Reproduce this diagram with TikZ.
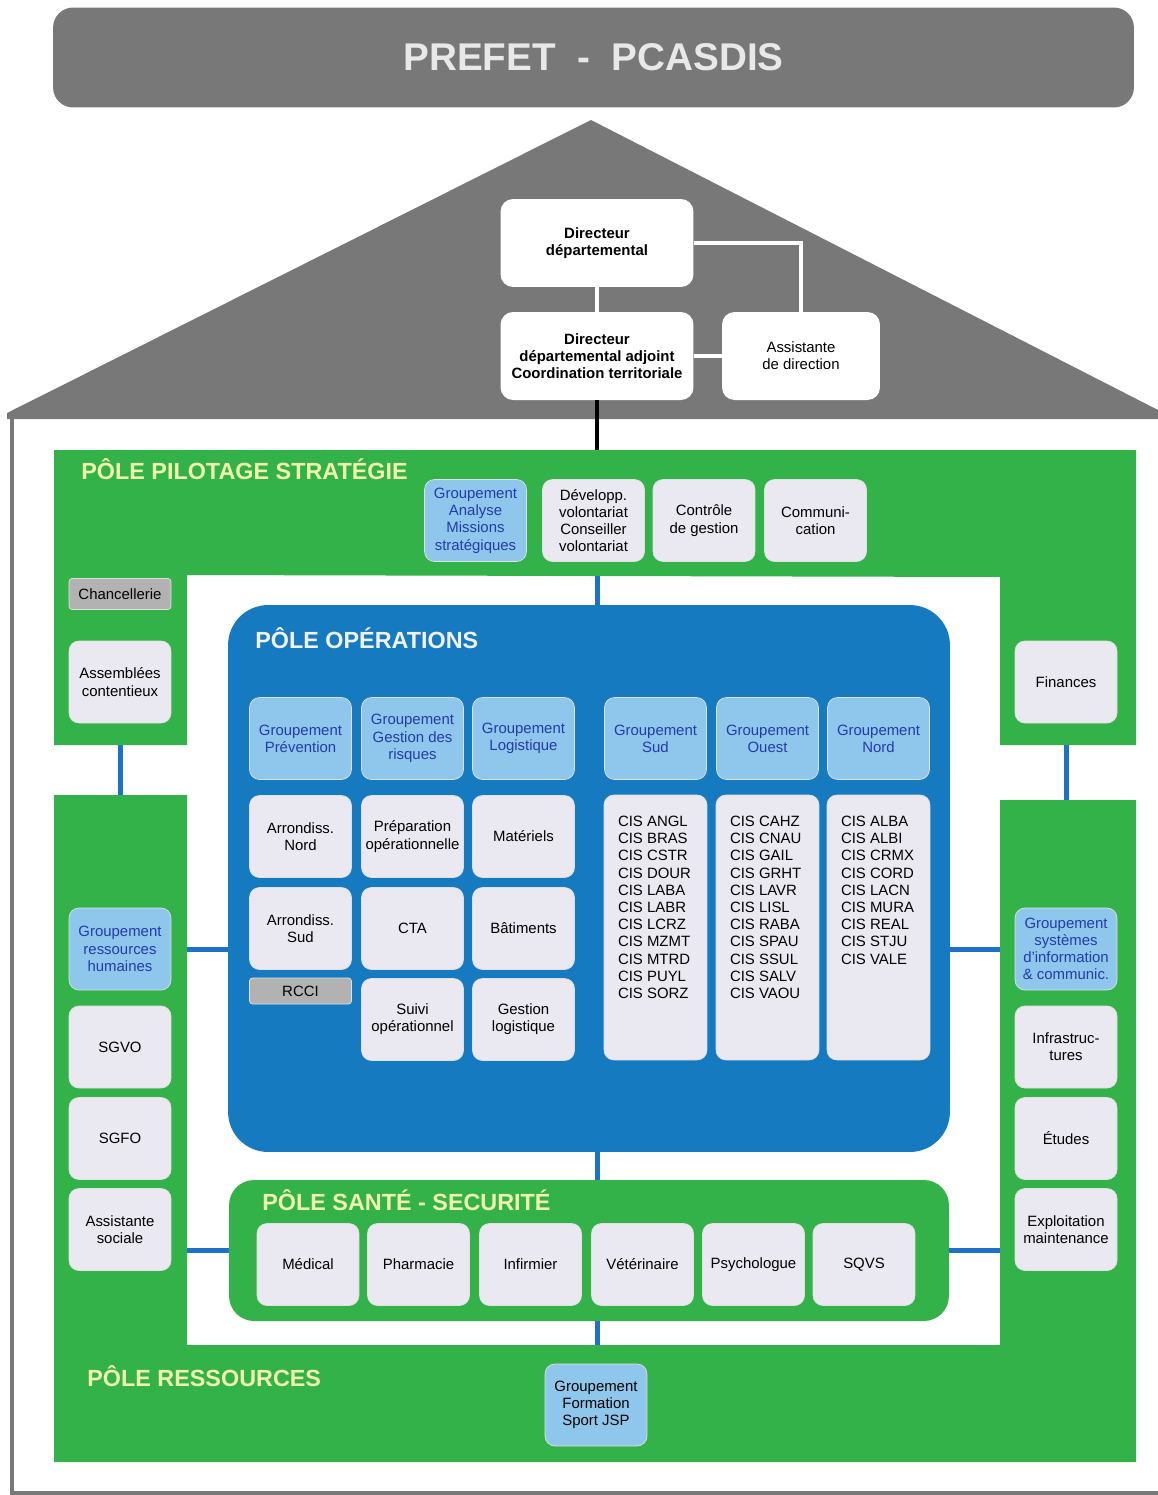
\documentclass[tikz,border=0pt]{standalone}
\usepackage{fontspec}
\setmainfont{Liberation Sans}

\definecolor{roofgray}{RGB}{120,120,120}
\definecolor{polegreen}{RGB}{52,178,74}
\definecolor{poleblue}{RGB}{22,122,192}
\definecolor{unitfill}{RGB}{234,232,240}
\definecolor{grpfill}{RGB}{142,198,236}
\definecolor{grptext}{RGB}{38,58,168}
\definecolor{tagfill}{RGB}{178,178,178}
\definecolor{titlecol}{RGB}{240,243,172}
\definecolor{linkblue}{RGB}{30,112,200}
\definecolor{bannertext}{RGB}{232,232,232}

\pgfdeclarelayer{links}
\pgfsetlayers{links,main}

\newcommand{\unitfont}{\fontsize{8.5}{9.8}\selectfont}
\newcommand{\titlefont}{\fontsize{13.3}{15}\selectfont\bfseries}

\tikzset{
  unitbox/.style={draw=black!12, fill=unitfill, rounded corners=0.2cm, minimum width=2.04cm, minimum height=1.64cm, inner sep=1pt, align=center, font=\unitfont},
  grpbox/.style={unitbox, fill=grpfill, text=grptext},
  tagbox/.style={unitbox, fill=tagfill, minimum height=0.62cm, rounded corners=0.06cm},
  dirbox/.style={fill=white, rounded corners=0.25cm, minimum width=3.86cm, minimum height=1.76cm, align=center, font=\unitfont\bfseries},
  cisbox/.style={unitbox, minimum width=2.06cm, minimum height=5.3cm, inner xsep=0.28cm, inner ysep=0.42cm},
  poletitle/.style={anchor=base west, inner sep=0pt, font=\titlefont, text=titlecol},
  blink/.style={linkblue, line width=0.1cm},
  wlink/.style={white, line width=0.08cm}
}

\begin{document}
\begin{tikzpicture}[x=0.02cm, y=-0.02cm]
\useasboundingbox (0,0) rectangle (1158,1495);

% prefet and roof
\node[fill=roofgray, rounded corners=0.4cm, minimum width=21.62cm, minimum height=2cm, font=\fontsize{22}{24}\selectfont\bfseries, text=bannertext] (prefet) at (593.5,57.5) {PREFET\ \ -\ \ PCASDIS};
\fill[roofgray] (7,413) -- (591,120) -- (1158,410) -- (1158,419) -- (7,419) -- cycle;
\draw[roofgray, line width=0.08cm] (12,419) -- (12,1493) -- (1160,1493);

% direction
\node[dirbox] (dd) at (597,243) {Directeur\\départemental};
\node[dirbox] (dda) at (597,356) {Directeur\\départemental adjoint\\Coordination territoriale};
\node[dirbox, minimum width=3.16cm, font=\unitfont] (asst) at (801,356) {Assistante\\de direction};
\draw[wlink] (dd) -- (dda);
\draw[wlink] (dd.east) -| (asst.north);
\draw[wlink] (dda) -- (asst);
\coordinate (pilotop) at (597,450);
\draw[black, line width=0.08cm] (dda.south) -- (pilotop);

% green poles
\fill[polegreen] (54,450) -- (1136,450) -- (1136,745) -- (1000,745) -- (1000,577) -- (187,575) -- (187,745) -- (54,745) -- cycle;
\fill[polegreen] (54,795) -- (187,795) -- (187,1345) -- (1000,1345) -- (1000,800) -- (1136,800) -- (1136,1462) -- (54,1462) -- cycle;
\node[poletitle] (tpilo) at (81,479) {PÔLE PILOTAGE STRATÉGIE};
\node[poletitle] (tress) at (87,1386) {PÔLE RESSOURCES};

% pole pilotage
\node[grpbox] (gams) at (475.5,520.5) {Groupement\\Analyse\\Missions\\stratégiques};
\node[unitbox] (dvol) at (593.5,520.5) {Développ.\\volontariat\\Conseiller\\volontariat};
\node[unitbox] (cges) at (704,520.5) {Contrôle\\de gestion};
\node[unitbox] (comm) at (815.5,520.5) {Communi-\\cation};
\node[tagbox] (chanc) at (120,594) {Chancellerie};
\node[unitbox] (assc) at (120,682) {Assemblées\\contentieux};
\node[unitbox] (fin) at (1066,682) {Finances};

% pole operations
\node[fill=poleblue, rounded corners=0.8cm, minimum width=14.44cm, minimum height=10.94cm] (ops) at (589,878.5) {};
\node[poletitle, text=white!95!blue] (tops) at (255,648) {PÔLE OPÉRATIONS};
\node[grpbox] (gprev) at (300.5,738.5) {Groupement\\Prévention};
\node[grpbox] (ggr) at (412.5,738.5) {Groupement\\Gestion des\\risques};
\node[grpbox] (glog) at (523.5,738.5) {Groupement\\Logistique};
\node[grpbox] (gsud) at (655.5,738.5) {Groupement\\Sud};
\node[grpbox] (gouest) at (767.5,738.5) {Groupement\\Ouest};
\node[grpbox] (gnord) at (878.5,738.5) {Groupement\\Nord};
\node[unitbox] (arrn) at (300.5,836.5) {Arrondiss.\\Nord};
\node[unitbox] (prep) at (412.5,836.5) {Préparation\\opérationnelle};
\node[unitbox] (mat) at (523.5,836.5) {Matériels};
\node[unitbox] (arrs) at (300.5,928.5) {Arrondiss.\\Sud};
\node[unitbox] (cta) at (412.5,928.5) {CTA};
\node[unitbox] (bat) at (523.5,928.5) {Bâtiments};
\node[tagbox, minimum height=0.52cm] (rcci) at (300.5,991) {RCCI};
\node[unitbox] (suivi) at (412.5,1019.5) {Suivi\\opérationnel};
\node[unitbox] (gestlog) at (523.5,1019.5) {Gestion\\logistique};
\node[cisbox] (cissud) at (655.5,927.5) {\parbox[t][4.46cm][t]{1.5cm}{\raggedright CIS ANGL\\CIS BRAS\\CIS CSTR\\CIS DOUR\\CIS LABA\\CIS LABR\\CIS LCRZ\\CIS MZMT\\CIS MTRD\\CIS PUYL\\CIS SORZ}};
\node[cisbox] (cisouest) at (767.5,927.5) {\parbox[t][4.46cm][t]{1.5cm}{\raggedright CIS CAHZ\\CIS CNAU\\CIS GAIL\\CIS GRHT\\CIS LAVR\\CIS LISL\\CIS RABA\\CIS SPAU\\CIS SSUL\\CIS SALV\\CIS VAOU}};
\node[cisbox] (cisnord) at (878.5,927.5) {\parbox[t][4.46cm][t]{1.5cm}{\raggedright CIS ALBA\\CIS ALBI\\CIS CRMX\\CIS CORD\\CIS LACN\\CIS MURA\\CIS REAL\\CIS STJU\\CIS VALE}};

% pole ressources
\node[grpbox] (grh) at (120,949) {Groupement\\ressources\\humaines};
\node[unitbox] (sgvo) at (120,1047) {SGVO};
\node[unitbox] (sgfo) at (120,1138.5) {SGFO};
\node[unitbox] (asoc) at (120,1229.5) {Assistante\\sociale};
\node[grpbox] (gsic) at (1066,949) {Groupement\\systèmes\\d'information\\\& communic.};
\node[unitbox] (infra) at (1066,1047) {Infrastruc-\\tures};
\node[unitbox] (etud) at (1066,1138.5) {Études};
\node[unitbox] (expl) at (1066,1229.5) {Exploitation\\maintenance};
\node[grpbox, text=black] (form) at (596,1405) {Groupement\\Formation\\Sport JSP};

% pole sante
\node[fill=polegreen, rounded corners=0.5cm, minimum width=14.4cm, minimum height=2.82cm] (sante) at (589,1250.5) {};
\node[poletitle] (tsante) at (262,1210) {PÔLE SANTÉ - SECURITÉ};
\node[unitbox] (med) at (308,1264.5) {Médical};
\node[unitbox] (pharma) at (418.5,1264.5) {Pharmacie};
\node[unitbox] (inf) at (530.5,1264.5) {Infirmier};
\node[unitbox] (veto) at (642.5,1264.5) {Vétérinaire};
\node[unitbox] (psy) at (753.5,1264.5) {Psychologue};
\node[unitbox] (sqvs) at (864,1264.5) {SQVS};

% links between poles
\begin{pgfonlayer}{links}
\fill[white] (0,0) rectangle (1158,1495);
\draw[blink] (assc) -- (grh);
\draw[blink] (fin) -- (gsic);
\draw[blink] (grh.east) -- (grh.east -| ops.west);
\draw[blink] (ops.east |- gsic.west) -- (gsic.west);
\draw[blink] (sante.west -| asoc.east) -- (sante.west);
\draw[blink] (sante.east) -- (sante.east -| expl.west);
\draw[blink] (dvol.south -| dda) -- (ops.north -| dda);
\draw[blink] (ops.south -| dda) -- (sante.north -| dda);
\draw[blink] (sante.south -| dda) -- (form.north -| dda);
\end{pgfonlayer}
\end{tikzpicture}
\end{document}
